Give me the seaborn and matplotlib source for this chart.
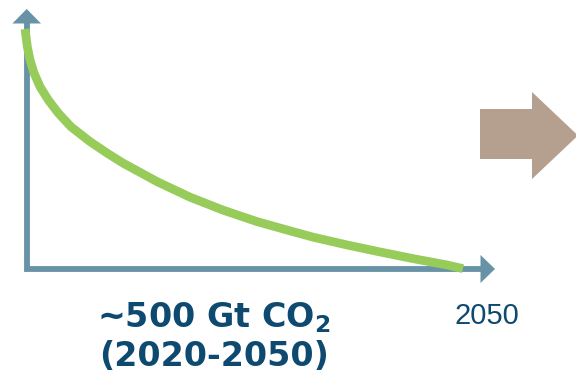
import matplotlib
matplotlib.use("Agg")
import matplotlib.pyplot as plt
from matplotlib.patches import Polygon
import seaborn as sns
import pandas as pd

# ---- data ----
years = [2020.0, 2020.16, 2020.34, 2020.62, 2021.03, 2021.60, 2022.28, 2023.15,
         2024.45, 2025.62, 2026.71, 2027.88, 2029.04, 2031.30, 2033.56,
         2035.89, 2038.15, 2039.73, 2042.05, 2044.32, 2046.58, 2048.90, 2050.0]
emissions = [64.8, 60.0, 56.5, 52.9, 49.2, 45.6, 42.1, 38.4,
             34.4, 31.3, 28.6, 26.1, 23.6, 19.4, 15.9,
             12.8, 10.3, 8.6, 6.5, 4.6, 2.8, 1.1, 0.1]
budget_label = ["~500 Gt CO$_\\mathbf{2}$", "(2020-2050)"]
end_label = "2050"

AXIS_C = "#6893A6"
GREEN = "#97CB5A"
BROWN = "#B5A090"
NAVY = "#0E4A70"

W, H = 576, 376
sns.set_style("white")
plt.rcParams["mathtext.fontset"] = "dejavusans"

fig = plt.figure(figsize=(W / 100, H / 100), dpi=100)
ax = fig.add_axes([0, 0, 1, 1])

# map data: 2020 -> px 25, 2050 -> px 463 ; 0 -> px 269
kx = 30 / (463 - 25)
ky = 0.27
ax.set_xlim(2020 - 25 * kx, 2020 + (W - 25) * kx)
ax.set_ylim(-(H - 269) * ky, 269 * ky)
ax.set_axis_off()


def P(x, y):
    return (x / W, 1 - y / H)


# axes (L shape) with arrowheads
ax.plot([P(26.7, 23)[0], P(26.7, 269)[0], P(481, 269)[0]],
        [P(26.7, 23)[1], P(26.7, 269)[1], P(481, 269)[1]],
        transform=ax.transAxes, color=AXIS_C, lw=4.2,
        solid_joinstyle="miter", solid_capstyle="butt", zorder=1)
ax.add_patch(Polygon([P(12.4, 23.5), P(26.7, 9), P(41, 23.5)], closed=True,
                     transform=ax.transAxes, color=AXIS_C, lw=0, zorder=1))
ax.add_patch(Polygon([P(480.5, 255), P(495, 269), P(480.5, 283)], closed=True,
                     transform=ax.transAxes, color=AXIS_C, lw=0, zorder=1))

# curve
df = pd.DataFrame({"year": years, "emissions": emissions})
sns.lineplot(data=df, x="year", y="emissions", ax=ax, color=GREEN,
             linewidth=6.3, sort=False, zorder=2)
for ln in ax.lines[-1:]:
    ln.set_solid_capstyle("butt")
    ln.set_solid_joinstyle("round")

# brown arrow on the right
ax.add_patch(Polygon([P(480, 109), P(532, 109), P(532, 92), P(578, 135.5),
                      P(532, 179), P(532, 159), P(480, 159)], closed=True,
                     transform=ax.transAxes, color=BROWN, lw=0, zorder=1))

# texts
ax.text(*P(214, 327), budget_label[0], transform=ax.transAxes, ha="center",
        va="baseline", fontsize=24, fontweight="bold", color=NAVY,
        family="DejaVu Sans")
ax.text(*P(214, 366), budget_label[1], transform=ax.transAxes, ha="center",
        va="baseline", fontsize=24, fontweight="bold", color=NAVY,
        family="DejaVu Sans")
ax.text(*P(487, 324), end_label, transform=ax.transAxes, ha="center",
        va="baseline", fontsize=21, color=NAVY, family="Liberation Sans")

fig.savefig("out.png", dpi=100)
